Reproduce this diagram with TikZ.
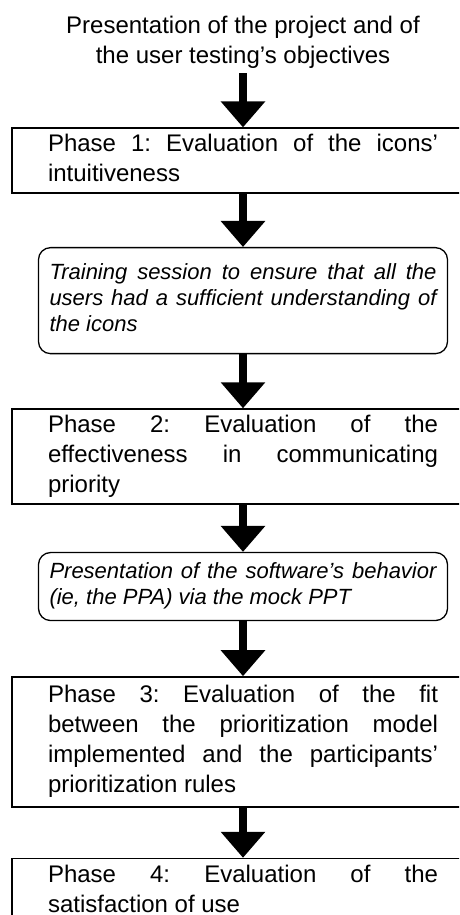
\documentclass[tikz,border=0pt]{standalone}
\usepackage{fontspec}
\setmainfont{Liberation Sans}
\usepackage{tikz}
\usetikzlibrary{positioning, arrows.meta}
\hyphenpenalty=10000
\tolerance=10000
\frenchspacing

\begin{document}
\begin{tikzpicture}[x=1pt, y=1pt, node distance=53pt,
   intro/.style={align=center, inner xsep=2pt, inner ysep=5pt,
                 font=\fontsize{24}{30}\selectfont},
   phase/.style={draw, line width=1.6pt, text width=390pt, inner xsep=36pt,
                 inner ysep=2.5pt, align=justify,
                 font=\fontsize{24}{30}\selectfont,
                 execute at begin node=\strut, execute at end node=\strut},
   session/.style={draw, line width=1.3pt, rounded corners=12pt,
                 text width=387pt, inner xsep=11pt, inner ysep=8pt,
                 align=justify, font=\fontsize{22}{26}\selectfont\itshape,
                 execute at begin node=\strut, execute at end node=\strut},
   down/.style={line width=8pt, -{Triangle[width=43pt, length=26pt]}}]
\useasboundingbox (0,0) rectangle (459,-915);
\clip (0,0) rectangle (459,-915);
%
\node[intro] (start) at (243,-42)
   {Presentation of the project and of\\the user testing's objectives};
\node[phase, below=54pt of start] (p1)
   {Phase 1: Evaluation of the icons'\linebreak intuitiveness};
\node[session, below=of p1, inner ysep=14pt] (s1)
   {Training session to ensure that all the\linebreak users had a sufficient
    understanding of\linebreak the icons};
\node[phase, below=54pt of s1] (p2)
   {Phase 2: Evaluation of the\linebreak effectiveness in
    communicating\linebreak priority};
\node[session, below=47pt of p2] (s2)
   {Presentation of the software's behavior\linebreak (ie, the PPA) via the
    mock PPT};
\node[phase, below=55pt of s2, inner ysep=5pt] (p3)
   {Phase 3: Evaluation of the fit\linebreak between the prioritization
    model\linebreak implemented and the participants'\linebreak
    prioritization rules};
\node[phase, below=50pt of p3] (p4)
   {Phase 4: Evaluation of the\linebreak satisfaction of use};
%
\draw[down] (start.south) -- (p1.north);
\draw[down] (p1.south) -- (s1.north);
\draw[down] (s1.south) -- (p2.north);
\draw[down] (p2.south) -- (s2.north);
\draw[down] (s2.south) -- (p3.north);
\draw[down] (p3.south) -- (p4.north);
%
\end{tikzpicture}
\end{document}
